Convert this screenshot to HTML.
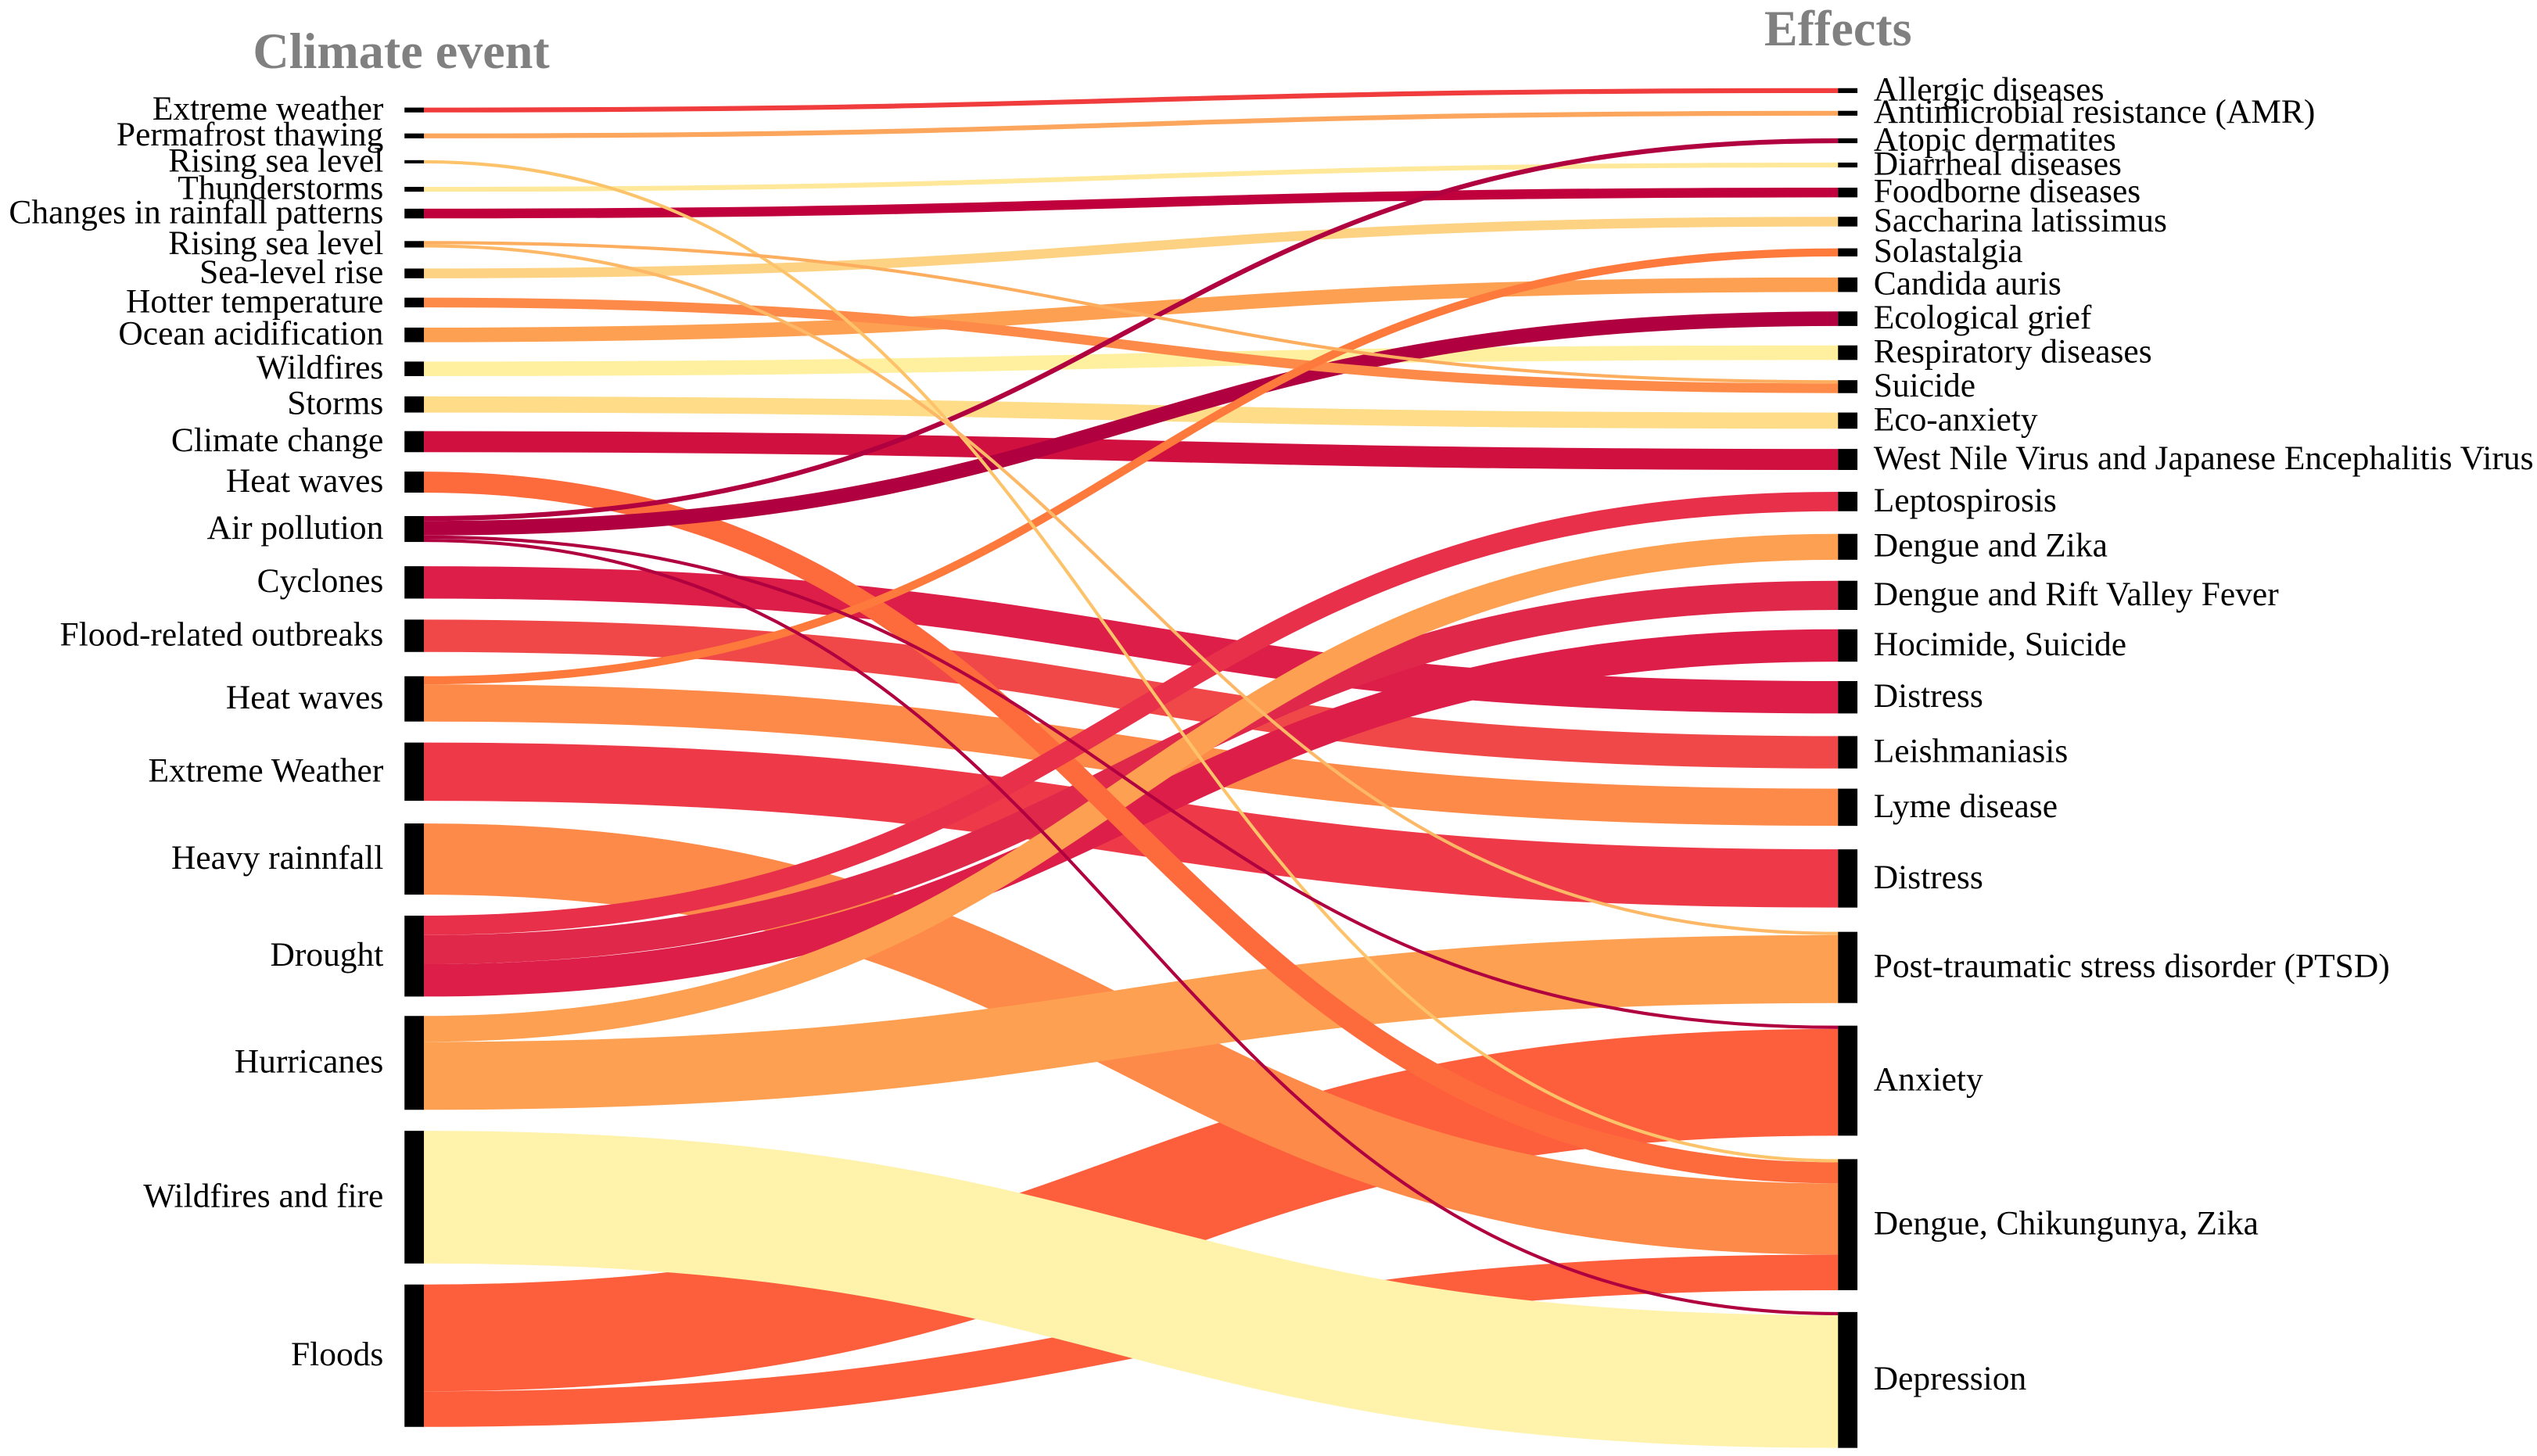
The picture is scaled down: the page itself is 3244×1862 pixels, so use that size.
<!DOCTYPE html>
<html><head><meta charset="utf-8"><style>
html,body{margin:0;padding:0;background:#fff;}
svg{display:block;}
text{font-family:"Liberation Serif",serif;}
</style></head><body>
<svg id="chart" width="3244" height="1862" viewBox="0 0 1568 900" preserveAspectRatio="none" xmlns="http://www.w3.org/2000/svg">
<text x="248" y="42" text-anchor="middle" font-size="31" font-weight="bold" fill="#808080">Climate event</text>
<text x="1136" y="28" text-anchor="middle" font-size="31" font-weight="bold" fill="#808080">Effects</text>
<g id="links"></g>
<g id="nodes"></g>
</svg>
<script>
const sourceNames = ["Extreme weather","Permafrost thawing","Rising sea level","Thunderstorms","Changes in rainfall patterns","Rising sea level","Sea-level rise","Hotter temperature","Ocean acidification","Wildfires","Storms","Climate change","Heat waves","Air pollution","Cyclones","Flood-related outbreaks","Heat waves","Extreme Weather","Heavy rainnfall","Drought","Hurricanes","Wildfires and fire","Floods"];
const sourceCenters = [68,84,100,117,132,151,169,187,207,228,250,273,298,327,360,393,432,477,531,591,657,740,838];
const targetNames = ["Allergic diseases","Antimicrobial resistance (AMR)","Atopic dermatites","Diarrheal diseases","Foodborne diseases","Saccharina latissimus","Solastalgia","Candida auris","Ecological grief","Respiratory diseases","Suicide","Eco-anxiety","West Nile Virus and Japanese Encephalitis Virus","Leptospirosis","Dengue and Zika","Dengue and Rift Valley Fever","Hocimide, Suicide","Distress","Leishmaniasis","Lyme disease","Distress","Post-traumatic stress disorder (PTSD)","Anxiety","Dengue, Chikungunya, Zika","Depression"];
const targetCenters = [56,70,87,102,119,137,156,176,197,218,239,260,284,310,338,368,399,431,465,499,543,598,668,757,853];
const linkSource = [0,1,2,3,4,5,5,6,7,8,9,10,11,12,13,13,13,13,14,15,16,16,17,18,19,19,19,20,20,21,22,22];
const linkTarget = [0,1,23,3,4,10,21,5,10,7,9,11,12,23,2,8,22,24,17,18,6,19,20,23,13,15,16,14,21,24,22,23];
const linkValue  = [3,3,2,3,6,2,2,6,6,9,9,10,13,13,3,9,2,2,20,20,5,23,36,44,12,18,20,16,42,82,66,22];
const linkColor  = ["#f03c3c","#fca55d","#fdc36b","#ffe89a","#c0003c","#fcae5e","#fcb866","#fed283","#fd8a48","#fda052","#fff0a0","#fedc88","#d0103f","#fd6a3c","#b00040","#b00040","#b00040","#b00040","#dc1e48","#f04848","#fd7a3c","#fd8a48","#ee3a48","#fd8a48","#e8304a","#e0284a","#dc1e48","#fea052","#fea052","#fff2aa","#fd5e3c","#fd5e3c"];

const NS = "http://www.w3.org/2000/svg";
const xL = 262, xR = 1136, nodeW = 12;
const srcSum = sourceNames.map(()=>0), tgtSum = targetNames.map(()=>0);
linkValue.forEach((v,i)=>{srcSum[linkSource[i]]+=v; tgtSum[linkTarget[i]]+=v;});
const srcTop = sourceCenters.map((c,i)=>c - srcSum[i]/2);
const tgtTop = targetCenters.map((c,i)=>c - tgtSum[i]/2);
const idx = linkValue.map((_,i)=>i);
const y0 = [], y1 = [];
const srcOff = srcTop.slice(), tgtOff = tgtTop.slice();
idx.slice().sort((a,b)=>targetCenters[linkTarget[a]]-targetCenters[linkTarget[b]]).forEach(i=>{
  y0[i] = srcOff[linkSource[i]] + linkValue[i]/2; srcOff[linkSource[i]] += linkValue[i];
});
idx.slice().sort((a,b)=>sourceCenters[linkSource[a]]-sourceCenters[linkSource[b]]).forEach(i=>{
  y1[i] = tgtOff[linkTarget[i]] + linkValue[i]/2; tgtOff[linkTarget[i]] += linkValue[i];
});
const gL = document.getElementById('links');
const xm = (xL + xR)/2;
// draw order: Floods links at the bottom, then the big yellow band, then by thickness
const orderKey = i => linkSource[i]===22 ? 1000 : (linkSource[i]===21 ? 900 : linkValue[i]);
idx.slice().sort((a,b)=>orderKey(b)-orderKey(a)).forEach(i=>{
  const p = document.createElementNS(NS,'path');
  p.setAttribute('d',`M${xL},${y0[i]} C${xm},${y0[i]} ${xm},${y1[i]} ${xR},${y1[i]}`);
  p.setAttribute('fill','none');
  p.setAttribute('stroke',linkColor[i]);
  p.setAttribute('stroke-width',linkValue[i]);
  
  
  gL.appendChild(p);
});
const gN = document.getElementById('nodes');
sourceNames.forEach((n,i)=>{
  const r = document.createElementNS(NS,'rect');
  r.setAttribute('x',xL-nodeW); r.setAttribute('y',srcTop[i]);
  r.setAttribute('width',nodeW); r.setAttribute('height',srcSum[i]);
  r.setAttribute('fill','#000');
  
  
  gN.appendChild(r);
  const t = document.createElementNS(NS,'text');
  t.setAttribute('x',237); t.setAttribute('y',sourceCenters[i]+6);
  t.setAttribute('text-anchor','end'); t.setAttribute('font-size','21');
  t.textContent = n;
  
  
  gN.appendChild(t);
});
targetNames.forEach((n,i)=>{
  const r = document.createElementNS(NS,'rect');
  r.setAttribute('x',xR); r.setAttribute('y',tgtTop[i]);
  r.setAttribute('width',nodeW); r.setAttribute('height',tgtSum[i]);
  r.setAttribute('fill','#000');
  
  
  gN.appendChild(r);
  const t = document.createElementNS(NS,'text');
  t.setAttribute('x',1158); t.setAttribute('y',targetCenters[i]+6);
  t.setAttribute('font-size','21');
  t.textContent = n;
  
  
  gN.appendChild(t);
});
</script>
</body></html>
